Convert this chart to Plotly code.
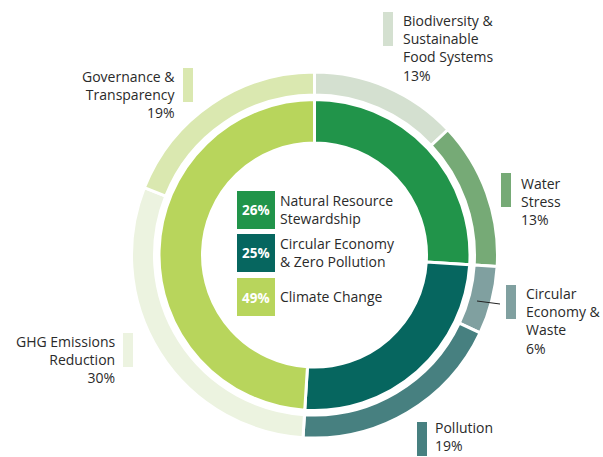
import plotly.graph_objects as go

W, H = 603, 457

# ---- data ----
inner_labels = ["Natural Resource<br>Stewardship", "Circular Economy<br>& Zero Pollution", "Climate Change"]
inner_values = [26, 25, 49]
inner_colors = ["#21944A", "#06665F", "#B8D55C"]

outer_labels = ["Biodiversity &<br>Sustainable<br>Food Systems", "Water<br>Stress",
                "Circular<br>Economy &<br>Waste", "Pollution",
                "GHG Emissions<br>Reduction", "Governance &<br>Transparency"]
outer_values = [13, 13, 6, 19, 30, 19]
outer_colors = ["#D4E0D0", "#76AA76", "#80A0A0", "#478080", "#ECF3E0", "#DAE8B0"]

# label layout for outer segments: (bar_x, bar_top, text_x, text_mid_y, align)
outer_label_pos = [
    (383, 12, 401, 48, "left"),
    (501, 173, 519, 201, "left"),
    (506, 285, 524, 321, "left"),
    (417, 422, 433, 436, "left"),
    (123, 333, 117, 359, "right"),
    (183, 68, 178, 95, "right"),
]

CX, CY = 314.5, 255
R_OUT, R_OUT_IN = 183, 160
R_IN, R_IN_IN = 155.5, 112


def px(x, y):
    return x / W, 1 - y / H


def dom(r):
    return dict(x=[(CX - r) / W, (CX + r) / W], y=[1 - (CY + r) / H, 1 - (CY - r) / H])


fig = go.Figure()
fig.add_trace(go.Pie(
    values=outer_values, labels=outer_labels, sort=False, direction="clockwise", rotation=0,
    hole=R_OUT_IN / R_OUT, domain=dom(R_OUT), textinfo="none", hoverinfo="label+value",
    marker=dict(colors=outer_colors, line=dict(color="white", width=3)), showlegend=False,
))
fig.add_trace(go.Pie(
    values=inner_values, labels=inner_labels, sort=False, direction="clockwise", rotation=0,
    hole=R_IN_IN / R_IN, domain=dom(R_IN), textinfo="none", hoverinfo="label+value",
    marker=dict(colors=inner_colors, line=dict(color="white", width=3)), showlegend=False,
))

FONT = "'Open Sans', 'Noto Sans', sans-serif"
TXT = "#2A2A2A"
shapes, annots = [], []

for (bx, bt, tx, ty, al), lab, val, col in zip(outer_label_pos, outer_labels, outer_values, outer_colors):
    x0, y0 = px(bx, bt)
    x1, y1 = px(bx + 10, bt + 34)
    shapes.append(dict(type="rect", xref="paper", yref="paper", x0=x0, x1=x1, y0=y1, y1=y0,
                       fillcolor=col, line=dict(width=0)))
    ax, ay = px(tx, ty)
    annots.append(dict(xref="paper", yref="paper", x=ax, y=ay, xanchor="left" if al == "left" else "right",
                       yanchor="middle", align=al, showarrow=False,
                       text=f"{lab}<br>{val}%", font=dict(family=FONT, size=14, color=TXT)))

# connector line for small segment
lx0, ly0 = px(477, 301)
lx1, ly1 = px(500, 304)
shapes.append(dict(type="line", xref="paper", yref="paper", x0=lx0, y0=ly0, x1=lx1, y1=ly1,
                   line=dict(color="#222222", width=1)))

# center legend
box_tops = [191, 234, 278]
text_mid = [209, 252.5, 296]
for lab, val, col, bt, tm in zip(inner_labels, inner_values, inner_colors, box_tops, text_mid):
    x0, y0 = px(237, bt)
    x1, y1 = px(275, bt + 38)
    shapes.append(dict(type="rect", xref="paper", yref="paper", x0=x0, x1=x1, y0=y1, y1=y0,
                       fillcolor=col, line=dict(width=0)))
    cx, cy = px(256, bt + 19.5)
    annots.append(dict(xref="paper", yref="paper", x=cx, y=cy, xanchor="center", yanchor="middle",
                       showarrow=False, text=f"<b>{val}%</b>",
                       font=dict(family=FONT, size=13.5, color="white")))
    tx, ty = px(278, tm)
    annots.append(dict(xref="paper", yref="paper", x=tx, y=ty, xanchor="left", yanchor="middle",
                       align="left", showarrow=False, text=lab,
                       font=dict(family=FONT, size=14, color=TXT)))

fig.update_layout(
    width=W, height=H, margin=dict(l=0, r=0, t=0, b=0),
    paper_bgcolor="white", plot_bgcolor="white",
    shapes=shapes, annotations=annots,
)
fig.write_html("out.html", config={"displayModeBar": False},
               post_script="document.body.style.margin='0';document.body.style.padding='0';"
                           "document.documentElement.style.overflow='hidden';")
